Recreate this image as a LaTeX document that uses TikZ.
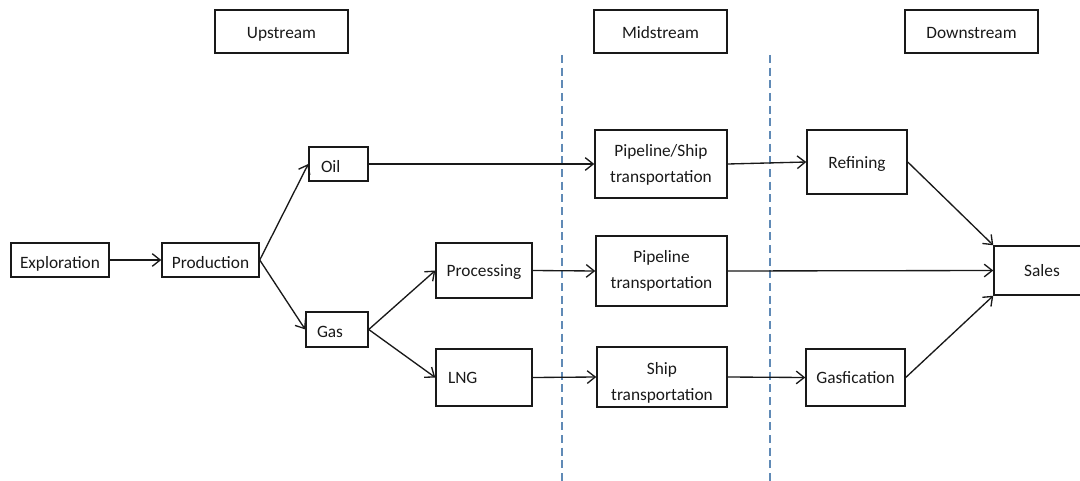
\documentclass[tikz,border=0pt]{standalone}
\usepackage{fontspec}
\setmainfont{Carlito}
\usetikzlibrary{arrows.meta}
\definecolor{divblue}{RGB}{96,138,182}
\definecolor{ink}{RGB}{25,25,25}
\def\u{0.75pt}
\begin{document}
\begin{tikzpicture}[x=0.75pt,y=-0.75pt,
  box/.style={draw=ink, line width=1.1pt, inner sep=0pt, text=ink,
    font=\fontsize{13}{19.5}\selectfont, align=center},
  % single-line label: capitals centred, optionally pushed down by #1/2
  capc/.style={text height=8.4pt+#1, text depth=0pt},
  capc/.default=0pt,
  flow/.style={draw=ink, line width=1pt,
    -{Straight Barb[length=6pt,width=9.5pt,line width=1pt]}},
  divider/.style={draw=divblue, line width=1.3pt, dash pattern=on 6pt off 3.5pt}]
\clip (0,0) rectangle (1080,481);

% stage headers
\node[box, capc=1.5pt, minimum width=133*\u, minimum height=43*\u] (up)   at (281.5,31.5) {Upstream};
\node[box, capc=1.5pt, minimum width=133*\u, minimum height=43*\u] (mid)  at (660.5,31.5) {Midstream};
\node[box, capc=1.5pt, minimum width=133*\u, minimum height=43*\u] (down) at (971.5,31.5) {Downstream};

% stage dividers
\coordinate (d1t) at (562,55);  \coordinate (d1b) at (562,481);
\coordinate (d2t) at (770,55);  \coordinate (d2b) at (770,481);
\draw[divider] (d1t) -- (d1b);
\draw[divider] (d2t) -- (d2b);

% upstream
\node[box, capc=4.5pt, minimum width=98*\u, minimum height=34*\u] (expl) at (60,260) {Exploration};
\node[box, capc=4.5pt, minimum width=97*\u, minimum height=34*\u] (prod) at (210.5,260) {Production};
\node[box, capc=4.5pt, minimum height=34*\u, inner xsep=9pt, text width=26.25pt, align=left] (oil) at (338.5,164) {Oil};
\node[box, capc=3.8pt, minimum height=35*\u, inner xsep=8.25pt, text width=30pt, align=left] (gas) at (337,329.5) {Gas};
\node[box, capc=1pt, minimum width=96*\u, minimum height=55*\u] (proc) at (484,270.5) {Processing};
\node[box, capc, minimum height=57*\u, inner xsep=9pt, text width=54pt, align=left] (lng) at (484,377.5) {LNG};

% midstream
\node[box, minimum width=132*\u, minimum height=68*\u] (pship) at (661,164) {\rule{0pt}{11pt}Pipeline/Ship\\transportation};
\node[box, minimum width=131*\u, minimum height=70*\u] (pipe)  at (661.5,271) {Pipeline\\transportation};
\node[box, minimum width=130*\u, minimum height=60*\u] (ship)  at (662,377) {\rule{0pt}{18pt}Ship\\transportation};

% downstream
\node[box, capc=2pt, minimum width=100*\u, minimum height=64*\u] (ref)   at (857,162) {Refining};
\node[box, capc, minimum width=99*\u,  minimum height=57*\u] (gasf)  at (855.5,377.5) {Gasfication};
\node[box, capc, minimum width=96*\u,  minimum height=49*\u] (sales) at (1042,270.5) {Sales};

% flows
\draw[flow] (expl.east) -- (prod.west);
\draw[flow] (prod.east) -- (oil.west);
\draw[flow] (prod.east) -- (gas.west);
\draw[flow] (gas.east) -- (proc.west);
\draw[flow] (gas.east) -- (lng.west);
\draw[flow] (oil.east) -- (pship.west);
\draw[flow] (proc.east) -- (pipe.west);
\draw[flow] (lng.east) -- (ship.west);
\draw[flow] (pship.east) -- (ref.west);
\draw[flow] (ship.east) -- (gasf.west);
\draw[flow] (pipe.east) -- (sales.west);
\draw[flow] (ref.east) -- (sales.north west);
\draw[flow] (gasf.east) -- (sales.south west);
\end{tikzpicture}
\end{document}
